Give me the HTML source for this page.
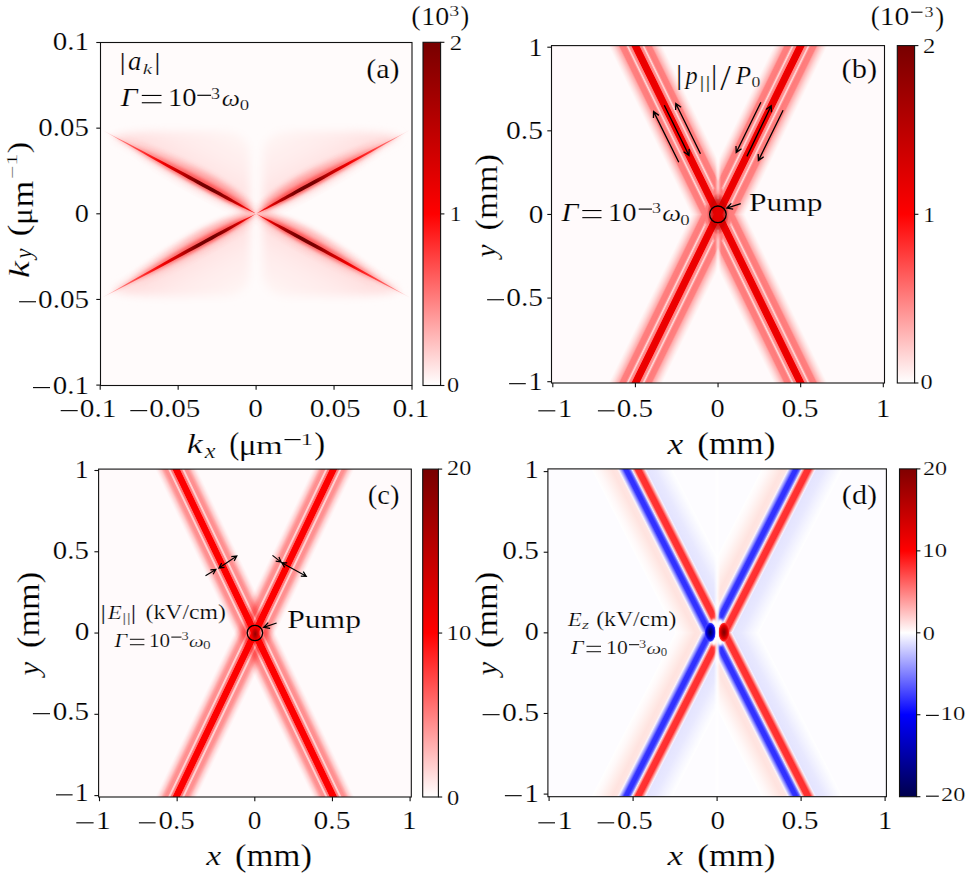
<!DOCTYPE html><html><head><meta charset="utf-8"><style>html,body{margin:0;padding:0;background:#fff;overflow:hidden;}svg{display:block;}text{font-family:"Liberation Serif", serif;fill:#000;stroke:#fff;stroke-width:0.2px;}</style></head><body>
<svg width="976" height="880" viewBox="0 0 976 880">
<defs>
<linearGradient id="cbRed" x1="0" y1="1" x2="0" y2="0"><stop offset="0" stop-color="#ffffff"/><stop offset="0.5" stop-color="#ff0000"/><stop offset="1" stop-color="#780000"/></linearGradient>
<linearGradient id="cbSeis" x1="0" y1="1" x2="0" y2="0"><stop offset="0" stop-color="#00004c"/><stop offset="0.25" stop-color="#0000ff"/><stop offset="0.5" stop-color="#ffffff"/><stop offset="0.75" stop-color="#ff0000"/><stop offset="1" stop-color="#800000"/></linearGradient>
<clipPath id="clipa"><rect x="100.5" y="42.5" width="311.5" height="343.0"/></clipPath>
<clipPath id="clipb"><rect x="551.5" y="45.6" width="333.0" height="337.4"/></clipPath>
<clipPath id="clipc"><rect x="98.6" y="469.1" width="312.70000000000005" height="327.9"/></clipPath>
<clipPath id="clipd"><rect x="547.9" y="468.9" width="338.5" height="327.80000000000007"/></clipPath>
<linearGradient id="gB" x1="0" y1="0" x2="1" y2="0"><stop offset="0.0000" stop-color="#ffffff" stop-opacity="1"/><stop offset="0.0600" stop-color="#ffeded" stop-opacity="1"/><stop offset="0.1100" stop-color="#ffd9d9" stop-opacity="1"/><stop offset="0.1600" stop-color="#ffbdbd" stop-opacity="1"/><stop offset="0.1900" stop-color="#ffadad" stop-opacity="1"/><stop offset="0.2200" stop-color="#ff8080" stop-opacity="1"/><stop offset="0.3100" stop-color="#ff7a7a" stop-opacity="1"/><stop offset="0.3340" stop-color="#ff9494" stop-opacity="1"/><stop offset="0.3500" stop-color="#ffd1d1" stop-opacity="1"/><stop offset="0.3660" stop-color="#ffd1d1" stop-opacity="1"/><stop offset="0.3820" stop-color="#ff9494" stop-opacity="1"/><stop offset="0.4200" stop-color="#ff8080" stop-opacity="1"/><stop offset="0.4360" stop-color="#f20000" stop-opacity="1"/><stop offset="0.5000" stop-color="#e80000" stop-opacity="1"/><stop offset="0.5640" stop-color="#f20000" stop-opacity="1"/><stop offset="0.5800" stop-color="#ff8080" stop-opacity="1"/><stop offset="0.6180" stop-color="#ff9494" stop-opacity="1"/><stop offset="0.6340" stop-color="#ffd1d1" stop-opacity="1"/><stop offset="0.6500" stop-color="#ffd1d1" stop-opacity="1"/><stop offset="0.6660" stop-color="#ff9494" stop-opacity="1"/><stop offset="0.6900" stop-color="#ff7a7a" stop-opacity="1"/><stop offset="0.7800" stop-color="#ff8080" stop-opacity="1"/><stop offset="0.8100" stop-color="#ffadad" stop-opacity="1"/><stop offset="0.8400" stop-color="#ffbdbd" stop-opacity="1"/><stop offset="0.8900" stop-color="#ffd9d9" stop-opacity="1"/><stop offset="0.9400" stop-color="#ffeded" stop-opacity="1"/><stop offset="1.0000" stop-color="#ffffff" stop-opacity="1"/></linearGradient>
<linearGradient id="gC" x1="0" y1="0" x2="1" y2="0"><stop offset="0.0000" stop-color="#ff0000" stop-opacity="0"/><stop offset="0.1346" stop-color="#ff0000" stop-opacity="0"/><stop offset="0.1731" stop-color="#ff0000" stop-opacity="0.05"/><stop offset="0.2308" stop-color="#ff0000" stop-opacity="0.18"/><stop offset="0.2692" stop-color="#ff0000" stop-opacity="0.33"/><stop offset="0.3077" stop-color="#ff0000" stop-opacity="0.43"/><stop offset="0.3519" stop-color="#ff0000" stop-opacity="0.42"/><stop offset="0.3692" stop-color="#ff0000" stop-opacity="0.17"/><stop offset="0.3885" stop-color="#ff0000" stop-opacity="0.17"/><stop offset="0.4058" stop-color="#ff0000" stop-opacity="0.48"/><stop offset="0.4308" stop-color="#ff0000" stop-opacity="0.55"/><stop offset="0.4442" stop-color="#ff0000" stop-opacity="1"/><stop offset="0.5000" stop-color="#fa0000" stop-opacity="1"/><stop offset="0.5558" stop-color="#ff0000" stop-opacity="1"/><stop offset="0.5692" stop-color="#ff0000" stop-opacity="0.55"/><stop offset="0.5942" stop-color="#ff0000" stop-opacity="0.48"/><stop offset="0.6115" stop-color="#ff0000" stop-opacity="0.17"/><stop offset="0.6308" stop-color="#ff0000" stop-opacity="0.17"/><stop offset="0.6481" stop-color="#ff0000" stop-opacity="0.42"/><stop offset="0.6923" stop-color="#ff0000" stop-opacity="0.43"/><stop offset="0.7308" stop-color="#ff0000" stop-opacity="0.33"/><stop offset="0.7692" stop-color="#ff0000" stop-opacity="0.18"/><stop offset="0.8269" stop-color="#ff0000" stop-opacity="0.05"/><stop offset="0.8654" stop-color="#ff0000" stop-opacity="0"/><stop offset="1.0000" stop-color="#ff0000" stop-opacity="0"/></linearGradient>
<linearGradient id="gD" x1="0" y1="0" x2="1" y2="0"><stop offset="0.0000" stop-color="#ffffff" stop-opacity="1"/><stop offset="0.0833" stop-color="#fff8f8" stop-opacity="1"/><stop offset="0.1667" stop-color="#ffeeeb" stop-opacity="1"/><stop offset="0.2500" stop-color="#ffe3df" stop-opacity="1"/><stop offset="0.3056" stop-color="#ffe5e2" stop-opacity="1"/><stop offset="0.3292" stop-color="#faf4fa" stop-opacity="1"/><stop offset="0.3458" stop-color="#c8c8ff" stop-opacity="1"/><stop offset="0.3750" stop-color="#7878ff" stop-opacity="1"/><stop offset="0.3958" stop-color="#3434ff" stop-opacity="1"/><stop offset="0.4444" stop-color="#2e2eff" stop-opacity="1"/><stop offset="0.4681" stop-color="#5a5aff" stop-opacity="1"/><stop offset="0.4847" stop-color="#aaaaff" stop-opacity="1"/><stop offset="0.4972" stop-color="#ebeeff" stop-opacity="1"/><stop offset="0.5069" stop-color="#ffc8c8" stop-opacity="1"/><stop offset="0.5208" stop-color="#ff8c8c" stop-opacity="1"/><stop offset="0.5361" stop-color="#ff3434" stop-opacity="1"/><stop offset="0.6083" stop-color="#ff2e2e" stop-opacity="1"/><stop offset="0.6250" stop-color="#ff6e6e" stop-opacity="1"/><stop offset="0.6458" stop-color="#ffbebe" stop-opacity="1"/><stop offset="0.6639" stop-color="#f6f2ff" stop-opacity="1"/><stop offset="0.6806" stop-color="#e4e4ff" stop-opacity="1"/><stop offset="0.7778" stop-color="#e8e8ff" stop-opacity="1"/><stop offset="0.8889" stop-color="#f4f4ff" stop-opacity="1"/><stop offset="1.0000" stop-color="#ffffff" stop-opacity="1"/></linearGradient>
<radialGradient id="blobB"><stop offset="0" stop-color="#000050"/><stop offset="0.35" stop-color="#000090"/><stop offset="0.7" stop-color="#0000e0"/><stop offset="0.9" stop-color="#3030ff"/><stop offset="1" stop-color="#5050ff" stop-opacity="0.3"/></radialGradient>
<radialGradient id="blobR"><stop offset="0" stop-color="#800000"/><stop offset="0.35" stop-color="#a80000"/><stop offset="0.7" stop-color="#e80000"/><stop offset="0.9" stop-color="#ff2a2a"/><stop offset="1" stop-color="#ff5050" stop-opacity="0.3"/></radialGradient>
<filter id="blur2" x="-50%" y="-50%" width="200%" height="200%"><feGaussianBlur stdDeviation="2"/></filter>
<filter id="blur6" x="-50%" y="-50%" width="200%" height="200%"><feGaussianBlur stdDeviation="6"/></filter>
<filter id="blur12" x="-50%" y="-50%" width="200%" height="200%"><feGaussianBlur stdDeviation="12"/></filter>
<filter id="blur1" x="-50%" y="-50%" width="200%" height="200%"><feGaussianBlur stdDeviation="0.8"/></filter>
<marker id="ah" viewBox="0 0 10 10" refX="9" refY="5" markerWidth="7" markerHeight="7" orient="auto-start-reverse" markerUnits="userSpaceOnUse"><path d="M1,1 L9,5 L1,9" fill="none" stroke="#000" stroke-width="1.3"/></marker>
</defs>
<rect width="976" height="880" fill="#fff"/>
<g clip-path="url(#clipa)">
<rect x="100.5" y="42.5" width="311.5" height="343.0" fill="#fffbfb"/>
<linearGradient id="lobeG" gradientUnits="userSpaceOnUse" x1="318" y1="180" x2="290" y2="130"><stop offset="0" stop-color="#ffdcdc"/><stop offset="0.45" stop-color="#ffeaea"/><stop offset="1" stop-color="#fff4f3"/></linearGradient>
<linearGradient id="armG" x1="0" y1="0" x2="1" y2="0"><stop offset="0" stop-color="#ff2020"/><stop offset="0.1" stop-color="#e00000"/><stop offset="0.2" stop-color="#980000"/><stop offset="0.28" stop-color="#700000"/><stop offset="0.38" stop-color="#780000"/><stop offset="0.48" stop-color="#c00000"/><stop offset="0.6" stop-color="#f00000"/><stop offset="0.72" stop-color="#ff2828"/><stop offset="0.86" stop-color="#ff6a6a"/><stop offset="1" stop-color="#ffe0e0"/></linearGradient>
<linearGradient id="glowG" x1="0" y1="0" x2="1" y2="0"><stop offset="0" stop-color="#ff0000" stop-opacity="0.75"/><stop offset="0.35" stop-color="#ff0000" stop-opacity="0.6"/><stop offset="0.7" stop-color="#ff0000" stop-opacity="0.3"/><stop offset="1" stop-color="#ff0000" stop-opacity="0"/></linearGradient>
<linearGradient id="glow2G" x1="0" y1="0" x2="1" y2="0"><stop offset="0" stop-color="#ff0000" stop-opacity="0.25"/><stop offset="0.2" stop-color="#ff0000" stop-opacity="0.5"/><stop offset="0.4" stop-color="#ff0000" stop-opacity="0.45"/><stop offset="0.7" stop-color="#ff0000" stop-opacity="0.25"/><stop offset="1" stop-color="#ff0000" stop-opacity="0.02"/></linearGradient>
<filter id="blur4" x="-50%" y="-50%" width="200%" height="200%"><feGaussianBlur stdDeviation="4"/></filter>
<filter id="blur3" x="-50%" y="-50%" width="200%" height="200%"><feGaussianBlur stdDeviation="3"/></filter>
<filter id="blur15" x="-50%" y="-50%" width="200%" height="200%"><feGaussianBlur stdDeviation="1.5"/></filter>
<g id="lobeA">
<path d="M262.5,207 L262.5,155 Q263,131 292,131 L350,131 Q383,132 400,137 L264.1,210.8 Z" fill="url(#lobeG)" filter="url(#blur4)"/>
</g>
<use href="#lobeA" transform="translate(512.20,0) scale(-1,1)"/>
<use href="#lobeA" transform="translate(0,427.60) scale(1,-1)"/>
<use href="#lobeA" transform="translate(512.20,427.60) scale(-1,-1)"/>
<g id="armTR"><g transform="translate(256.10,213.80) rotate(-28.569)">
<path d="M3,0 C10.5,-7 35.0,-12 61.3,-12 C96.4,-11 131.4,-6 175.2,0 L105.1,1.5 L35.0,1.5 Z" fill="url(#glowG)" opacity="0.4" filter="url(#blur3)"/>
<path d="M0,0 C21.0,-6.5 87.6,-6.5 175.2,0 C87.6,5 21.0,5 0,0Z" fill="url(#glow2G)" filter="url(#blur15)"/>
<path d="M0,0 C21.0,-9 96.4,-9 140.2,0 C96.4,9 21.0,9 0,0Z" fill="#ff3030" opacity="0.22" filter="url(#blur4)"/>
<path d="M0,0 C31.5,-2.5 70.1,-2.3 175.2,0 C70.1,2.3 31.5,2.5 0,0Z" fill="url(#armG)"/>
</g></g>
<g id="armBR"><g transform="translate(256.10,213.80) rotate(28.569)">
<path d="M3,0 C10.5,-7 35.0,-12 61.3,-12 C96.4,-11 131.4,-6 175.2,0 L105.1,1.5 L35.0,1.5 Z" fill="url(#glowG)" opacity="0.4" filter="url(#blur3)"/>
<path d="M0,0 C21.0,-6.5 87.6,-6.5 175.2,0 C87.6,5 21.0,5 0,0Z" fill="url(#glow2G)" filter="url(#blur15)"/>
<path d="M0,0 C21.0,-9 96.4,-9 140.2,0 C96.4,9 21.0,9 0,0Z" fill="#ff3030" opacity="0.22" filter="url(#blur4)"/>
<path d="M0,0 C31.5,-2.5 70.1,-2.3 175.2,0 C70.1,2.3 31.5,2.5 0,0Z" fill="url(#armG)"/>
</g></g>
<use href="#armTR" transform="translate(512.20,0) scale(-1,1)"/>
<use href="#armBR" transform="translate(512.20,0) scale(-1,1)"/>
</g>
<rect x="100.5" y="42.5" width="311.50" height="343.00" fill="none" stroke="#111" stroke-width="1.1"/>
<line x1="100.20" y1="385.5" x2="100.20" y2="389.7" stroke="#111" stroke-width="1.1"/>
<line x1="178.15" y1="385.5" x2="178.15" y2="389.7" stroke="#111" stroke-width="1.1"/>
<line x1="256.10" y1="385.5" x2="256.10" y2="389.7" stroke="#111" stroke-width="1.1"/>
<line x1="334.05" y1="385.5" x2="334.05" y2="389.7" stroke="#111" stroke-width="1.1"/>
<line x1="412.00" y1="385.5" x2="412.00" y2="389.7" stroke="#111" stroke-width="1.1"/>
<line x1="96.3" y1="385.10" x2="100.5" y2="385.10" stroke="#111" stroke-width="1.1"/>
<line x1="96.3" y1="299.45" x2="100.5" y2="299.45" stroke="#111" stroke-width="1.1"/>
<line x1="96.3" y1="213.80" x2="100.5" y2="213.80" stroke="#111" stroke-width="1.1"/>
<line x1="96.3" y1="128.15" x2="100.5" y2="128.15" stroke="#111" stroke-width="1.1"/>
<line x1="96.3" y1="42.50" x2="100.5" y2="42.50" stroke="#111" stroke-width="1.1"/>
<rect x="423.0" y="42.3" width="17.60" height="343.20" fill="url(#cbRed)" stroke="#111" stroke-width="1.1"/>
<line x1="440.6" y1="385.50" x2="444.40000000000003" y2="385.50" stroke="#111" stroke-width="1.1"/>
<line x1="440.6" y1="213.90" x2="444.40000000000003" y2="213.90" stroke="#111" stroke-width="1.1"/>
<line x1="440.6" y1="42.30" x2="444.40000000000003" y2="42.30" stroke="#111" stroke-width="1.1"/>
<g clip-path="url(#clipb)">
<rect x="551.5" y="45.6" width="333.0" height="337.4" fill="#fffafb"/>
<g style="mix-blend-mode:darken">
<rect x="-25" y="-450.0" width="50" height="900" fill="url(#gB)" transform="translate(718.05,214.45) rotate(26.105)"/>
</g><g style="mix-blend-mode:darken">
<rect x="-25" y="-450.0" width="50" height="900" fill="url(#gB)" transform="translate(718.05,214.45) rotate(-26.105)"/>
</g>
<radialGradient id="blobBb"><stop offset="0" stop-color="#e80000"/><stop offset="0.4" stop-color="#e00000" stop-opacity="0.9"/><stop offset="0.7" stop-color="#c00000" stop-opacity="0.6"/><stop offset="1" stop-color="#d00000" stop-opacity="0"/></radialGradient>
<g style="mix-blend-mode:darken"><ellipse cx="718" cy="214" rx="11" ry="21" fill="url(#blobBb)"/></g>
<linearGradient id="wlineB" x1="0" y1="0" x2="0" y2="1"><stop offset="0" stop-color="#fff" stop-opacity="0"/><stop offset="0.25" stop-color="#fff" stop-opacity="0.8"/><stop offset="0.8" stop-color="#fff" stop-opacity="0.8"/><stop offset="1" stop-color="#fff" stop-opacity="0"/></linearGradient>
<rect x="716.8" y="150" width="2.4" height="48" fill="url(#wlineB)" filter="url(#blur1)"/>
<rect x="716.8" y="231" width="2.4" height="48" fill="url(#wlineB)" transform="rotate(180 718 255)" filter="url(#blur1)"/>
</g>
<rect x="551.5" y="45.6" width="333.00" height="337.40" fill="none" stroke="#111" stroke-width="1.1"/>
<line x1="552.80" y1="383.0" x2="552.80" y2="387.2" stroke="#111" stroke-width="1.1"/>
<line x1="635.42" y1="383.0" x2="635.42" y2="387.2" stroke="#111" stroke-width="1.1"/>
<line x1="718.05" y1="383.0" x2="718.05" y2="387.2" stroke="#111" stroke-width="1.1"/>
<line x1="800.67" y1="383.0" x2="800.67" y2="387.2" stroke="#111" stroke-width="1.1"/>
<line x1="883.30" y1="383.0" x2="883.30" y2="387.2" stroke="#111" stroke-width="1.1"/>
<line x1="547.3" y1="381.70" x2="551.5" y2="381.70" stroke="#111" stroke-width="1.1"/>
<line x1="547.3" y1="298.07" x2="551.5" y2="298.07" stroke="#111" stroke-width="1.1"/>
<line x1="547.3" y1="214.45" x2="551.5" y2="214.45" stroke="#111" stroke-width="1.1"/>
<line x1="547.3" y1="130.82" x2="551.5" y2="130.82" stroke="#111" stroke-width="1.1"/>
<line x1="547.3" y1="47.20" x2="551.5" y2="47.20" stroke="#111" stroke-width="1.1"/>
<rect x="897.3" y="45.6" width="17.30" height="337.40" fill="url(#cbRed)" stroke="#111" stroke-width="1.1"/>
<line x1="914.6" y1="383.00" x2="918.4" y2="383.00" stroke="#111" stroke-width="1.1"/>
<line x1="914.6" y1="214.30" x2="918.4" y2="214.30" stroke="#111" stroke-width="1.1"/>
<line x1="914.6" y1="45.60" x2="918.4" y2="45.60" stroke="#111" stroke-width="1.1"/>
<g clip-path="url(#clipc)">
<rect x="98.6" y="469.1" width="312.70000000000005" height="327.9" fill="#fffafb"/>
<g style="mix-blend-mode:darken">
<rect x="-26" y="-450.0" width="52" height="900" fill="url(#gC)" transform="translate(254.80,633.05) rotate(25.641)"/>
</g><g style="mix-blend-mode:darken">
<rect x="-26" y="-450.0" width="52" height="900" fill="url(#gC)" transform="translate(254.80,633.05) rotate(-25.641)"/>
</g>
<radialGradient id="blobC"><stop offset="0" stop-color="#900000"/><stop offset="0.5" stop-color="#c00000" stop-opacity="0.8"/><stop offset="1" stop-color="#ff0000" stop-opacity="0"/></radialGradient>
<ellipse cx="255.2" cy="634" rx="5" ry="9" fill="url(#blobC)"/>
</g>
<rect x="98.6" y="469.1" width="312.70" height="327.90" fill="none" stroke="#111" stroke-width="1.1"/>
<line x1="99.50" y1="797.0" x2="99.50" y2="801.2" stroke="#111" stroke-width="1.1"/>
<line x1="177.15" y1="797.0" x2="177.15" y2="801.2" stroke="#111" stroke-width="1.1"/>
<line x1="254.80" y1="797.0" x2="254.80" y2="801.2" stroke="#111" stroke-width="1.1"/>
<line x1="332.45" y1="797.0" x2="332.45" y2="801.2" stroke="#111" stroke-width="1.1"/>
<line x1="410.10" y1="797.0" x2="410.10" y2="801.2" stroke="#111" stroke-width="1.1"/>
<line x1="94.39999999999999" y1="795.60" x2="98.6" y2="795.60" stroke="#111" stroke-width="1.1"/>
<line x1="94.39999999999999" y1="714.32" x2="98.6" y2="714.32" stroke="#111" stroke-width="1.1"/>
<line x1="94.39999999999999" y1="633.05" x2="98.6" y2="633.05" stroke="#111" stroke-width="1.1"/>
<line x1="94.39999999999999" y1="551.77" x2="98.6" y2="551.77" stroke="#111" stroke-width="1.1"/>
<line x1="94.39999999999999" y1="470.50" x2="98.6" y2="470.50" stroke="#111" stroke-width="1.1"/>
<rect x="422.7" y="469.1" width="15.70" height="327.90" fill="url(#cbRed)" stroke="#111" stroke-width="1.1"/>
<line x1="438.4" y1="797.00" x2="442.2" y2="797.00" stroke="#111" stroke-width="1.1"/>
<line x1="438.4" y1="633.05" x2="442.2" y2="633.05" stroke="#111" stroke-width="1.1"/>
<line x1="438.4" y1="469.10" x2="442.2" y2="469.10" stroke="#111" stroke-width="1.1"/>
<clipPath id="dTL"><rect x="547.9" y="468.9" width="169.20" height="164.55"/></clipPath>
<clipPath id="dBL"><rect x="547.9" y="632.25" width="169.20" height="164.45"/></clipPath>
<clipPath id="dTR"><rect x="717.1" y="468.9" width="169.30" height="164.55"/></clipPath>
<clipPath id="dBR"><rect x="717.1" y="632.25" width="169.30" height="164.45"/></clipPath>
<g clip-path="url(#clipd)">
<rect x="547.9" y="468.9" width="338.5" height="327.80000000000007" fill="#fdfcff"/>
<g clip-path="url(#dTL)"><rect x="-36" y="-450.0" width="72" height="900" fill="url(#gD)" transform="translate(715.70,632.85) rotate(-27.067)"/></g>
<g clip-path="url(#dBL)"><rect x="-36" y="-450.0" width="72" height="900" fill="url(#gD)" transform="translate(715.70,632.85) rotate(27.067)"/></g>
<g clip-path="url(#dTR)"><rect x="-36" y="-450.0" width="72" height="900" fill="url(#gD)" transform="translate(718.50,632.85) rotate(27.067)"/></g>
<g clip-path="url(#dBR)"><rect x="-36" y="-450.0" width="72" height="900" fill="url(#gD)" transform="translate(718.50,632.85) rotate(-27.067)"/></g>
<rect x="715.5" y="468.9" width="3.2" height="327.80000000000007" fill="#ffffff" opacity="0.85" filter="url(#blur1)"/>
<ellipse cx="713.9" cy="632.3" rx="4.6" ry="13.6" fill="#fff" filter="url(#blur1)"/>
<ellipse cx="720.3" cy="632.3" rx="4.6" ry="13.6" fill="#fff" filter="url(#blur1)"/>
<rect x="704.6" y="622.4" width="11.2" height="19.6" rx="5.2" ry="7.5" fill="url(#blobB)"/>
<rect x="718.4" y="622.4" width="11.2" height="19.6" rx="5.2" ry="7.5" fill="url(#blobR)"/>
<rect x="716.3000000000001" y="600" width="1.6" height="65" fill="#ffffff" opacity="0.9" filter="url(#blur1)"/>
</g>
<rect x="547.9" y="468.9" width="338.50" height="327.80" fill="none" stroke="#111" stroke-width="1.1"/>
<line x1="549.10" y1="796.7" x2="549.10" y2="800.9000000000001" stroke="#111" stroke-width="1.1"/>
<line x1="633.10" y1="796.7" x2="633.10" y2="800.9000000000001" stroke="#111" stroke-width="1.1"/>
<line x1="717.10" y1="796.7" x2="717.10" y2="800.9000000000001" stroke="#111" stroke-width="1.1"/>
<line x1="801.10" y1="796.7" x2="801.10" y2="800.9000000000001" stroke="#111" stroke-width="1.1"/>
<line x1="885.10" y1="796.7" x2="885.10" y2="800.9000000000001" stroke="#111" stroke-width="1.1"/>
<line x1="543.6999999999999" y1="794.10" x2="547.9" y2="794.10" stroke="#111" stroke-width="1.1"/>
<line x1="543.6999999999999" y1="713.48" x2="547.9" y2="713.48" stroke="#111" stroke-width="1.1"/>
<line x1="543.6999999999999" y1="632.85" x2="547.9" y2="632.85" stroke="#111" stroke-width="1.1"/>
<line x1="543.6999999999999" y1="552.23" x2="547.9" y2="552.23" stroke="#111" stroke-width="1.1"/>
<line x1="543.6999999999999" y1="471.60" x2="547.9" y2="471.60" stroke="#111" stroke-width="1.1"/>
<rect x="899.5" y="468.9" width="17.10" height="327.80" fill="url(#cbSeis)" stroke="#111" stroke-width="1.1"/>
<line x1="916.6" y1="796.70" x2="920.4" y2="796.70" stroke="#111" stroke-width="1.1"/>
<line x1="916.6" y1="714.75" x2="920.4" y2="714.75" stroke="#111" stroke-width="1.1"/>
<line x1="916.6" y1="632.80" x2="920.4" y2="632.80" stroke="#111" stroke-width="1.1"/>
<line x1="916.6" y1="550.85" x2="920.4" y2="550.85" stroke="#111" stroke-width="1.1"/>
<line x1="916.6" y1="468.90" x2="920.4" y2="468.90" stroke="#111" stroke-width="1.1"/>
<text transform="translate(79.82,416.62) scale(1.162,1)" font-size="25.29">0.1</text>
<rect x="60.70" y="410.09" width="17.00" height="1.1" fill="#000"/>
<text transform="translate(149.33,416.62) scale(1.153,1)" font-size="25.29">0.05</text>
<rect x="130.30" y="410.09" width="16.90" height="1.1" fill="#000"/>
<text transform="translate(248.23,416.75) scale(1.149,1)" font-size="25.48">0</text>
<text transform="translate(309.63,416.62) scale(1.153,1)" font-size="25.29">0.05</text>
<text transform="translate(392.62,416.62) scale(1.162,1)" font-size="25.29">0.1</text>
<text transform="translate(52.64,49.72) scale(1.142,1)" font-size="25.44">0.1</text>
<text transform="translate(38.35,135.62) scale(1.141,1)" font-size="25.29">0.05</text>
<text transform="translate(74.77,221.55) scale(1.145,1)" font-size="24.74">0</text>
<text transform="translate(38.03,307.63) scale(1.176,1)" font-size="24.85">0.05</text>
<rect x="19.10" y="301.20" width="16.90" height="1.1" fill="#000"/>
<text transform="translate(52.84,393.62) scale(1.138,1)" font-size="25.44">0.1</text>
<rect x="33.00" y="387.05" width="17.00" height="1.1" fill="#000"/>
<text transform="translate(558.03,417.00) scale(1.129,1)" font-size="25.30">1</text>
<rect x="538.30" y="410.27" width="17.00" height="1.1" fill="#000"/>
<text transform="translate(616.74,416.63) scale(1.183,1)" font-size="24.56">0.5</text>
<rect x="597.90" y="410.27" width="16.70" height="1.1" fill="#000"/>
<text transform="translate(710.57,416.75) scale(1.112,1)" font-size="25.48">0</text>
<text transform="translate(781.52,416.63) scale(1.204,1)" font-size="24.56">0.5</text>
<text transform="translate(875.93,417.00) scale(1.129,1)" font-size="25.30">1</text>
<text transform="translate(528.48,55.90) scale(1.100,1)" font-size="25.45">1</text>
<text transform="translate(506.02,139.43) scale(1.190,1)" font-size="24.85">0.5</text>
<text transform="translate(528.73,222.55) scale(1.184,1)" font-size="24.74">0</text>
<text transform="translate(506.22,305.63) scale(1.186,1)" font-size="24.85">0.5</text>
<rect x="487.10" y="299.20" width="16.90" height="1.1" fill="#000"/>
<text transform="translate(528.48,389.90) scale(1.100,1)" font-size="25.45">1</text>
<rect x="509.10" y="383.13" width="16.70" height="1.1" fill="#000"/>
<text transform="translate(96.05,829.00) scale(1.163,1)" font-size="25.30">1</text>
<rect x="76.30" y="822.27" width="17.30" height="1.1" fill="#000"/>
<text transform="translate(158.44,828.63) scale(1.180,1)" font-size="24.56">0.5</text>
<rect x="138.90" y="822.27" width="16.70" height="1.1" fill="#000"/>
<text transform="translate(247.70,828.75) scale(1.107,1)" font-size="24.74">0</text>
<text transform="translate(313.52,828.63) scale(1.204,1)" font-size="24.56">0.5</text>
<text transform="translate(401.98,829.00) scale(1.152,1)" font-size="25.30">1</text>
<text transform="translate(74.71,478.10) scale(1.082,1)" font-size="25.61">1</text>
<text transform="translate(52.84,558.72) scale(1.129,1)" font-size="25.59">0.5</text>
<text transform="translate(74.73,639.55) scale(1.184,1)" font-size="24.74">0</text>
<text transform="translate(52.73,719.62) scale(1.159,1)" font-size="25.15">0.5</text>
<rect x="32.90" y="713.12" width="17.10" height="1.1" fill="#000"/>
<text transform="translate(74.71,801.10) scale(1.082,1)" font-size="25.61">1</text>
<rect x="56.00" y="794.30" width="16.60" height="1.1" fill="#000"/>
<text transform="translate(557.55,829.00) scale(1.208,1)" font-size="25.30">1</text>
<rect x="538.30" y="822.27" width="16.70" height="1.1" fill="#000"/>
<text transform="translate(617.06,828.63) scale(1.159,1)" font-size="24.56">0.5</text>
<rect x="597.60" y="822.27" width="16.60" height="1.1" fill="#000"/>
<text transform="translate(710.54,828.75) scale(1.174,1)" font-size="24.74">0</text>
<text transform="translate(781.52,828.63) scale(1.204,1)" font-size="24.56">0.5</text>
<text transform="translate(877.93,829.00) scale(1.129,1)" font-size="25.30">1</text>
<text transform="translate(524.43,478.10) scale(1.116,1)" font-size="25.61">1</text>
<text transform="translate(502.33,558.72) scale(1.159,1)" font-size="25.29">0.5</text>
<text transform="translate(524.78,639.65) scale(1.122,1)" font-size="25.04">0</text>
<text transform="translate(502.01,720.62) scale(1.183,1)" font-size="25.15">0.5</text>
<rect x="482.60" y="714.12" width="17.00" height="1.1" fill="#000"/>
<text transform="translate(524.43,801.90) scale(1.122,1)" font-size="25.45">1</text>
<rect x="504.90" y="795.13" width="16.80" height="1.1" fill="#000"/>
<text transform="translate(447.03,391.69) scale(1.163,1)" font-size="20.89">0</text>
<text transform="translate(449.79,220.90) scale(1.066,1)" font-size="21.97">1</text>
<text transform="translate(449.79,49.80) scale(1.184,1)" font-size="20.91">2</text>
<text transform="translate(920.43,389.19) scale(1.163,1)" font-size="20.89">0</text>
<text transform="translate(923.19,221.50) scale(1.066,1)" font-size="21.97">1</text>
<text transform="translate(923.09,52.70) scale(1.192,1)" font-size="20.76">2</text>
<text transform="translate(446.92,804.60) scale(1.208,1)" font-size="20.30">0</text>
<text transform="translate(446.58,639.88) scale(1.143,1)" font-size="21.63">10</text>
<text transform="translate(447.11,474.79) scale(1.173,1)" font-size="20.59">20</text>
<text transform="translate(941.01,800.90) scale(1.231,1)" font-size="19.70">20</text>
<rect x="926.00" y="795.63" width="12.80" height="1.1" fill="#000"/>
<text transform="translate(940.58,720.10) scale(1.254,1)" font-size="19.70">10</text>
<rect x="926.00" y="714.83" width="12.80" height="1.1" fill="#000"/>
<text transform="translate(922.73,639.61) scale(1.301,1)" font-size="18.67">0</text>
<text transform="translate(922.28,557.20) scale(1.245,1)" font-size="19.85">10</text>
<text transform="translate(922.91,474.51) scale(1.304,1)" font-size="18.52">20</text>
<text transform="translate(119.15,69.60) scale(1.305,1)" font-size="26.04">|</text>
<text transform="translate(127.90,70.03) scale(0.980,1)" font-size="27.29" font-style="italic">a</text>
<text transform="translate(142.77,74.40) scale(1.501,1)" font-size="14.10" font-style="italic">k</text>
<text transform="translate(154.05,69.60) scale(1.305,1)" font-size="26.04">|</text>
<text transform="translate(120.80,105.60) scale(1.179,1)" font-size="25.04" font-style="italic">Γ</text>
<rect x="141.80" y="94.90" width="19.70" height="1.1" fill="#000"/>
<rect x="141.80" y="102.20" width="19.70" height="1.1" fill="#000"/>
<text transform="translate(167.92,105.95) scale(1.150,1)" font-size="24.89">10</text>
<rect x="197.30" y="94.72" width="13.80" height="1.15" fill="#000"/>
<text transform="translate(211.10,98.94) scale(1.141,1)" font-size="15.82">3</text>
<text transform="translate(221.80,106.16) scale(1.075,1)" font-size="23.96" font-style="italic">ω</text>
<text transform="translate(239.85,109.56) scale(1.380,1)" font-size="13.63">0</text>
<text transform="translate(366.25,78.38) scale(1.074,1)" font-size="28.02">(a)</text>
<text transform="translate(675.75,84.19) scale(1.258,1)" font-size="27.03">|</text>
<text transform="translate(685.46,83.90) scale(0.969,1)" font-size="25.11" font-style="italic">p</text>
<text transform="translate(698.98,88.30) scale(1.820,1)" font-size="16.26">||</text>
<text transform="translate(710.75,84.19) scale(1.258,1)" font-size="27.03">|</text>
<text transform="translate(720.20,89.64) scale(1.066,1)" font-size="35.82">/</text>
<text transform="translate(735.73,83.80) scale(0.990,1)" font-size="25.34" font-style="italic">P</text>
<text transform="translate(751.50,87.35) scale(1.214,1)" font-size="14.52">0</text>
<text transform="translate(561.40,220.70) scale(1.178,1)" font-size="25.19" font-style="italic">Γ</text>
<rect x="582.30" y="210.00" width="19.20" height="1.1" fill="#000"/>
<rect x="582.30" y="217.10" width="19.20" height="1.1" fill="#000"/>
<text transform="translate(607.92,220.85) scale(1.130,1)" font-size="25.33">10</text>
<rect x="638.70" y="208.53" width="13.30" height="1.15" fill="#000"/>
<text transform="translate(652.10,213.05) scale(1.197,1)" font-size="15.07">3</text>
<text transform="translate(662.17,220.87) scale(1.149,1)" font-size="23.12" font-style="italic">ω</text>
<text transform="translate(680.35,224.66) scale(1.365,1)" font-size="13.78">0</text>
<text transform="translate(748.95,210.71) scale(1.283,1)" font-size="24.60">Pump</text>
<text transform="translate(841.53,78.15) scale(1.100,1)" font-size="27.69">(b)</text>
<text transform="translate(99.90,619.31) scale(1.566,1)" font-size="20.44">|</text>
<text transform="translate(108.12,618.70) scale(1.207,1)" font-size="18.63" font-style="italic">E</text>
<text transform="translate(121.99,621.71) scale(1.820,1)" font-size="12.53">||</text>
<text transform="translate(130.20,619.31) scale(1.566,1)" font-size="20.44">|</text>
<text transform="translate(145.53,619.12) scale(1.112,1)" font-size="21.32">(kV/cm)</text>
<text transform="translate(114.52,646.80) scale(1.124,1)" font-size="19.69" font-style="italic">Γ</text>
<rect x="129.90" y="638.80" width="14.50" height="0.95" fill="#000"/>
<rect x="129.90" y="644.25" width="14.50" height="0.95" fill="#000"/>
<text transform="translate(149.01,647.00) scale(1.068,1)" font-size="19.70">10</text>
<rect x="171.30" y="636.60" width="10.20" height="1.00" fill="#000"/>
<text transform="translate(181.38,640.28) scale(1.190,1)" font-size="12.09">3</text>
<text transform="translate(188.88,647.03) scale(1.179,1)" font-size="17.50" font-style="italic">ω</text>
<text transform="translate(202.99,649.38) scale(1.270,1)" font-size="12.00">0</text>
<text transform="translate(287.15,627.51) scale(1.241,1)" font-size="25.52">Pump</text>
<text transform="translate(367.81,504.28) scale(1.022,1)" font-size="28.02">(c)</text>
<text transform="translate(568.12,625.80) scale(1.207,1)" font-size="18.63" font-style="italic">E</text>
<text transform="translate(581.98,628.70) scale(1.446,1)" font-size="12.39" font-style="italic">z</text>
<text transform="translate(596.23,626.41) scale(1.159,1)" font-size="20.44">(kV/cm)</text>
<text transform="translate(571.12,653.80) scale(1.150,1)" font-size="19.24" font-style="italic">Γ</text>
<rect x="586.50" y="645.80" width="14.50" height="0.95" fill="#000"/>
<rect x="586.50" y="651.25" width="14.50" height="0.95" fill="#000"/>
<text transform="translate(606.04,654.00) scale(1.103,1)" font-size="19.70">10</text>
<rect x="629.00" y="644.20" width="10.20" height="1.00" fill="#000"/>
<text transform="translate(639.08,647.78) scale(1.190,1)" font-size="12.09">3</text>
<text transform="translate(646.58,654.03) scale(1.179,1)" font-size="17.50" font-style="italic">ω</text>
<text transform="translate(660.79,656.38) scale(1.071,1)" font-size="12.00">0</text>
<text transform="translate(841.84,504.28) scale(1.077,1)" font-size="28.02">(d)</text>
<text transform="translate(411.23,25.27) scale(1.024,1)" font-size="27.58">(</text>
<text transform="translate(421.19,24.85) scale(1.116,1)" font-size="25.04">10</text>
<text transform="translate(449.20,16.34) scale(1.288,1)" font-size="15.52">3</text>
<text transform="translate(460.52,25.34) scale(0.938,1)" font-size="27.89">)</text>
<text transform="translate(870.78,25.42) scale(0.973,1)" font-size="27.80">(</text>
<text transform="translate(879.74,25.05) scale(1.173,1)" font-size="25.19">10</text>
<rect x="911.20" y="11.65" width="11.30" height="1.10" fill="#000"/>
<text transform="translate(924.60,16.85) scale(1.209,1)" font-size="14.93">3</text>
<text transform="translate(935.19,25.50) scale(0.958,1)" font-size="28.11">)</text>
<text transform="translate(186.63,453.40) scale(1.296,1)" font-size="27.63" font-style="italic">k</text>
<text transform="translate(204.74,457.70) scale(1.213,1)" font-size="20.00" font-style="italic">x</text>
<text transform="translate(229.34,454.39) scale(0.968,1)" font-size="31.21">(</text>
<text transform="translate(238.84,454.98) scale(1.169,1)" font-size="28.44">μ</text>
<text transform="translate(256.11,454.20) scale(1.312,1)" font-size="26.17">m</text>
<rect x="284.50" y="439.03" width="16.10" height="1.15" fill="#000"/>
<text transform="translate(300.71,445.00) scale(1.484,1)" font-size="16.36">1</text>
<text transform="translate(314.22,454.47) scale(1.036,1)" font-size="31.56">)</text>
<text transform="translate(667.56,453.70) scale(1.210,1)" font-size="29.35" font-style="italic">x</text>
<text transform="translate(697.21,454.12) scale(1.118,1)" font-size="31.54">(mm)</text>
<text transform="translate(206.14,865.30) scale(1.261,1)" font-size="26.74" font-style="italic">x</text>
<text transform="translate(235.04,865.78) scale(1.125,1)" font-size="30.77">(mm)</text>
<text transform="translate(667.56,865.30) scale(1.328,1)" font-size="26.74" font-style="italic">x</text>
<text transform="translate(697.21,865.78) scale(1.146,1)" font-size="30.77">(mm)</text>
<text transform="translate(29.10,277.94) rotate(-90) scale(1.317,1)" font-size="28.78" font-style="italic">k</text>
<text transform="translate(31.79,258.59) rotate(-90) scale(0.876,1)" font-size="25.63" font-style="italic">y</text>
<text transform="translate(28.07,236.61) rotate(-90) scale(1.194,1)" font-size="29.89">(</text>
<text transform="translate(31.69,224.77) rotate(-90) scale(1.051,1)" font-size="29.33">μ</text>
<text transform="translate(32.70,207.49) rotate(-90) scale(1.113,1)" font-size="30.85">m</text>
<text transform="translate(17.30,178.89) rotate(-90) scale(1.724,1)" font-size="13.79">−1</text>
<text transform="translate(28.15,153.35) rotate(-90) scale(1.158,1)" font-size="30.22">)</text>
<text transform="translate(496.33,257.51) rotate(-90) scale(0.987,1)" font-size="29.63" font-style="italic">y</text>
<text transform="translate(496.72,230.55) rotate(-90) scale(1.077,1)" font-size="31.98">(mm)</text>
<text transform="translate(38.58,675.59) rotate(-90) scale(1.081,1)" font-size="28.44" font-style="italic">y</text>
<text transform="translate(38.51,647.94) rotate(-90) scale(1.053,1)" font-size="32.53">(mm)</text>
<text transform="translate(497.08,675.59) rotate(-90) scale(1.081,1)" font-size="28.44" font-style="italic">y</text>
<text transform="translate(497.01,647.94) rotate(-90) scale(1.053,1)" font-size="32.53">(mm)</text>
<circle cx="717.9" cy="214.3" r="8.3" fill="none" stroke="#000" stroke-width="1.3"/>
<circle cx="254.9" cy="633.0" r="7.7" fill="none" stroke="#000" stroke-width="1.3"/>
<path d="M740.8,203.6L726.8,208.1M731.3,203.4L726.8,208.1L733.2,209.2" fill="none" stroke="#000" stroke-width="1.3" stroke-linejoin="miter"/>
<path d="M276.6,623.0L263.7,627.3M268.2,622.6L263.7,627.3L270.1,628.4" fill="none" stroke="#000" stroke-width="1.3" stroke-linejoin="miter"/>
<path d="M678.8,162.3L653.6,111.6M658.9,115.4L653.6,111.6L653.4,118.1" fill="none" stroke="#000" stroke-width="1.3" stroke-linejoin="miter"/>
<path d="M664.3,105.2L689.0,155.5M683.7,151.7L689.0,155.5L689.2,149.0" fill="none" stroke="#000" stroke-width="1.3" stroke-linejoin="miter"/>
<path d="M700.5,153.8L675.8,103.5M681.1,107.3L675.8,103.5L675.6,110.0" fill="none" stroke="#000" stroke-width="1.3" stroke-linejoin="miter"/>
<path d="M760.9,102.2L736.2,152.5M736.0,146.0L736.2,152.5L741.5,148.7" fill="none" stroke="#000" stroke-width="1.3" stroke-linejoin="miter"/>
<path d="M746.9,156.4L771.2,105.7M771.5,112.2L771.2,105.7L766.0,109.6" fill="none" stroke="#000" stroke-width="1.3" stroke-linejoin="miter"/>
<path d="M783.1,110.3L758.4,160.6M758.2,154.1L758.4,160.6L763.7,156.8" fill="none" stroke="#000" stroke-width="1.3" stroke-linejoin="miter"/>
<path d="M205.5,575.7L215.9,569.5M213.1,574.2L215.9,569.5L210.4,569.8" fill="none" stroke="#000" stroke-width="1.2" stroke-linejoin="miter"/>
<path d="M219.0,568.0L236.8,556.0M234.2,560.9L236.8,556.0L231.3,556.6M221.6,563.1L219.0,568.0L224.5,567.4" fill="none" stroke="#000" stroke-width="1.2" stroke-linejoin="miter"/>
<path d="M272.5,555.4L281.1,562.1M275.7,561.2L281.1,562.1L278.9,557.1" fill="none" stroke="#000" stroke-width="1.2" stroke-linejoin="miter"/>
<path d="M281.7,562.7L306.3,576.3M300.8,576.2L306.3,576.3L303.3,571.7M287.2,562.8L281.7,562.7L284.7,567.3" fill="none" stroke="#000" stroke-width="1.2" stroke-linejoin="miter"/>
</svg></body></html>
